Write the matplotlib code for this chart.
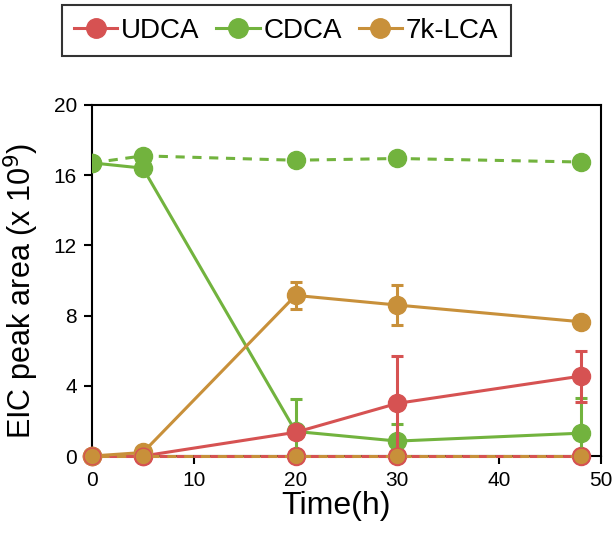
import matplotlib
matplotlib.use("Agg")
import matplotlib.pyplot as plt
import numpy as np

plt.rcParams['font.family'] = ['Liberation Sans', 'DejaVu Sans']

# time points (h)
time = [0, 5, 20, 30, 48]

# treated samples
udca = [0, 0, 1.35, 3.0, 4.55]
udca_err = [0, 0, 0.1, 2.7, 1.45]
cdca = [16.7, 16.4, 1.4, 0.85, 1.3]
cdca_err = [0, 0.3, 1.85, 1.0, 2.0]
lca7k = [0, 0.2, 9.15, 8.6, 7.65]
lca7k_err = [0, 0.1, 0.75, 1.15, 0.15]

# controls (dashed)
udca_ctrl = [0, 0, 0, 0, 0]
cdca_ctrl = [16.7, 17.1, 16.85, 16.95, 16.75]
lca7k_ctrl = [0, 0, 0, 0, 0]

red = '#d65252'
green = '#72b33e'
gold = '#c8903a'

fig = plt.figure(figsize=(6.16, 5.41), dpi=100)
ax = fig.add_axes([0.1494, 0.1571, 0.8262, 0.6489])

ms = 13
lw = 2.2
eb = dict(elinewidth=2.2, capsize=4.5, capthick=2.2)

# controls
ax.plot(time, cdca_ctrl, color=green, lw=lw, marker='o', ms=ms, ls=(0, (3, 2.5)), zorder=3)
ax.plot(time, udca_ctrl, color=red, lw=lw, marker='o', ms=ms, ls=(0, (3, 2.5)), zorder=3, clip_on=False)

# treated
ax.errorbar(time, cdca, yerr=cdca_err, color=green, lw=lw, marker='o', ms=ms, zorder=4, **eb)
ax.errorbar(time, udca, yerr=udca_err, color=red, lw=lw, marker='o', ms=ms, zorder=5, clip_on=False, **eb)
ax.errorbar(time, lca7k, yerr=lca7k_err, color=gold, lw=lw, marker='o', ms=ms, zorder=5, clip_on=False, **eb)
ax.plot(time, lca7k_ctrl, color=gold, lw=lw, marker='o', ms=ms - 1, mec=red, mew=1.0,
        ls=(3, (3, 2.5)), zorder=6, clip_on=False)

ax.set_xlim(0, 50)
ax.set_ylim(0, 20)
ax.set_xticks([0, 10, 20, 30, 40, 50])
ax.set_yticks([0, 4, 8, 12, 16, 20])
ax.tick_params(labelsize=15, width=1.5, length=6, direction='out', pad=5)
for s in ax.spines.values():
    s.set_linewidth(1.5)

ax.set_xlabel('Time(h)', fontsize=23)
ax.set_ylabel('EIC peak area (x 10$^9$)', fontsize=22)
ax.xaxis.set_label_coords(0.48, -0.1)
ax.yaxis.set_label_coords(-0.1, 0.47)

# legend
handles = [plt.Line2D([], [], color=c, lw=lw, marker='o', ms=14) for c in (red, green, gold)]
leg = fig.legend(handles, ['UDCA', 'CDCA', '7k-LCA'], loc='upper left',
                 bbox_to_anchor=(0.1, 0.99), ncol=3, fontsize=20, frameon=True,
                 fancybox=False, handlelength=1.55, handletextpad=0.15, columnspacing=0.6,
                 borderpad=0.45, borderaxespad=0)
leg.get_frame().set_edgecolor('black')
leg.get_frame().set_linewidth(1.5)

fig.savefig('out.png', dpi=100)
